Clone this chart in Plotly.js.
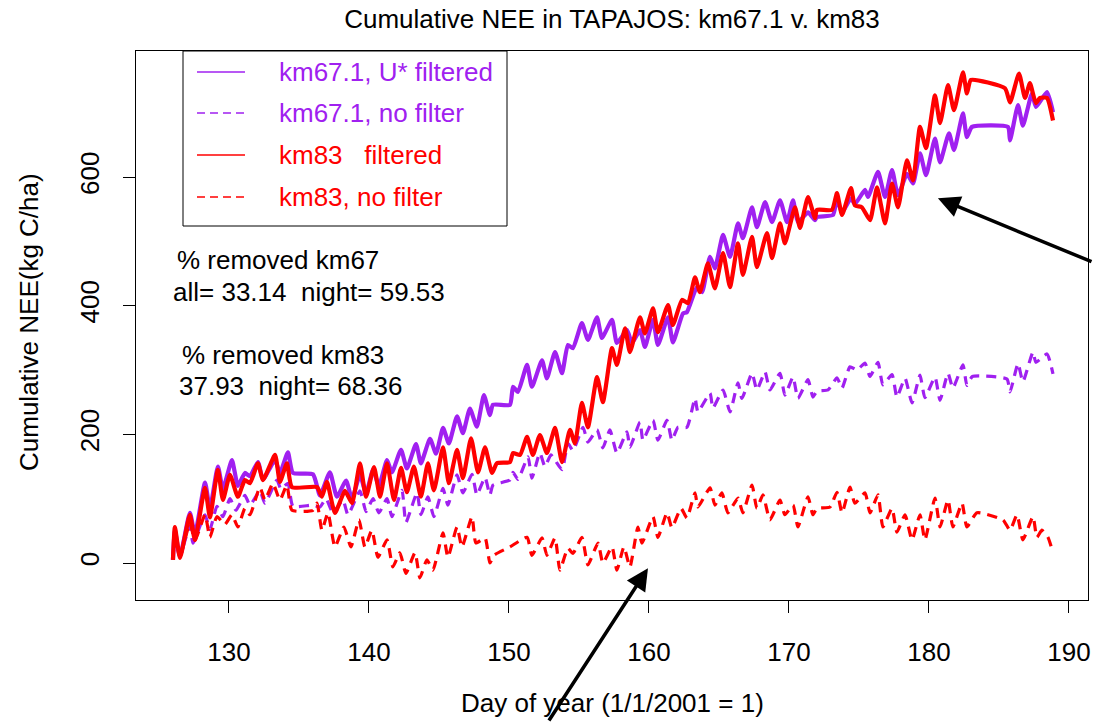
<!DOCTYPE html>
<html>
<head>
<meta charset="utf-8">
<script src="https://cdn.plot.ly/plotly-3.0.1.min.js"></script>
<style>html,body{margin:0;padding:0;background:#fff;}#chart{width:1093px;height:722px;}</style>
</head>
<body>
<div id="chart"></div>
<script>
// ---- Data ----
const seriesNames = ["km67.1, U* filtered", "km67.1, no filter", "km83   filtered", "km83, no filter"];

const km67FiltDay = [126.0,126.14,126.5,127.21,127.57,128.29,128.64,129.21,129.57,130.21,130.64,131.14,131.5,132.07,132.43,133.29,133.64,134.21,134.57,136.0,136.5,137.21,137.71,138.36,138.79,139.36,139.79,140.29,140.71,141.29,141.64,142.29,142.71,143.36,143.71,144.36,144.79,145.29,145.71,146.29,146.71,147.21,147.71,148.21,148.64,148.86,150.07,150.29,150.64,151.29,151.64,152.36,152.71,153.29,153.79,154.21,154.57,155.21,155.64,156.29,156.64,157.36,157.71,158.43,158.79,159.36,159.71,160.29,160.64,161.36,161.71,162.43,162.71,163.43,163.79,164.36,164.71,165.29,165.79,166.36,166.71,167.36,167.71,168.29,168.79,169.36,169.86,170.29,170.64,171.36,171.86,172.0,173.14,173.43,173.79,174.43,174.71,175.43,175.64,176.36,176.86,177.36,177.79,178.43,178.86,179.36,179.79,180.43,180.79,181.43,181.79,182.43,182.71,183.07,185.64,185.79,186.36,186.71,187.36,187.64,188.43,188.86];
const km67FiltNEE = [5,50,10,78,45,125,85,150,115,160,120,140,135,157,130,160,140,172,140,138,105,141,103,128,100,137,108,145,120,160,141,176,147,185,155,193,170,210,186,228,202,240,212,261,230,246,246,274,266,308,274,315,287,328,295,339,334,373,347,382,350,378,342,362,342,362,336,378,339,382,343,388,390,429,421,476,458,510,476,528,505,553,522,561,530,564,530,564,530,545,533,538,541,565,545,567,558,580,569,608,569,611,572,605,590,637,603,660,623,668,642,699,662,678,678,657,712,680,730,709,732,701];

const km67RawDay = [126.0,126.14,126.5,127.21,127.43,128.29,128.64,129.14,129.57,130.07,130.5,131.14,131.5,132.21,132.57,133.43,133.71,134.21,134.57,136.0,136.5,136.93,137.43,138.14,138.5,139.36,139.79,140.29,140.71,141.29,141.64,142.36,142.64,143.43,143.71,144.21,144.64,145.29,145.64,146.29,146.71,147.36,147.71,148.29,148.64,148.86,150.07,150.29,150.64,151.36,151.64,152.21,152.57,153.0,153.79,154.21,154.57,155.29,155.64,156.29,156.71,157.21,157.71,158.43,158.64,159.36,159.57,160.29,160.64,161.29,161.64,162.07,162.71,163.29,163.5,164.36,164.57,165.29,165.79,166.36,166.64,167.36,167.71,168.29,168.64,169.36,169.71,170.29,170.64,171.36,171.71,172.0,172.79,173.43,173.79,174.36,174.86,175.43,175.79,176.36,176.71,177.36,177.71,178.29,178.79,179.36,179.71,180.43,180.79,181.36,181.71,182.43,182.71,183.1,185.57,185.79,186.36,186.71,187.43,187.64,188.43,188.86];
const km67RawNEE = [5,40,12,58,31,75,52,88,72,100,82,105,90,112,93,129,115,124,88,90,87,100,78,98,75,112,80,100,78,100,72,113,63,109,75,103,72,116,90,137,109,138,106,133,106,121,129,141,130,165,132,171,150,168,145,186,175,211,188,207,179,207,171,204,180,219,191,222,191,222,191,211,211,256,235,264,241,269,235,280,256,295,269,297,269,295,261,289,256,285,258,267,269,288,272,305,300,311,290,312,277,293,258,287,249,292,257,289,253,295,272,308,276,290,286,266,310,282,328,312,325,294];

const km83FiltDay = [126.0,126.14,126.5,127.21,127.57,128.29,128.64,129.21,129.57,130.07,130.64,131.14,131.5,132.07,132.43,133.29,133.64,134.14,134.5,136.29,136.64,137.0,137.57,138.29,138.79,139.36,139.79,140.36,140.79,141.29,141.79,142.29,142.71,143.21,143.71,144.21,144.64,145.29,145.71,146.29,146.71,147.29,147.79,148.29,148.79,149.14,150.07,150.29,150.79,151.29,151.71,152.21,152.71,153.29,153.79,154.36,154.71,155.21,155.64,156.29,156.71,157.36,157.71,158.29,158.64,159.36,159.71,160.29,160.64,161.36,161.71,162.36,162.79,163.29,163.64,164.21,164.71,165.29,165.79,166.36,166.71,167.36,167.71,168.43,168.79,169.36,169.71,170.43,170.79,171.36,171.86,172.0,173.07,173.43,173.79,174.43,174.71,175.21,175.79,176.29,176.86,177.36,177.79,178.43,178.86,179.36,179.79,180.43,180.79,181.36,181.79,182.43,182.71,183.0,185.43,185.79,186.43,186.86,187.21,187.64,187.93,188.43,188.86];
const km83FiltNEE = [5,56,8,75,36,117,71,145,98,137,103,129,124,155,129,168,126,155,118,118,103,126,78,112,93,155,103,149,103,155,98,148,110,150,103,155,113,180,124,176,132,194,141,180,140,155,157,171,168,196,168,199,171,210,157,207,186,249,211,289,250,334,308,365,328,382,357,396,359,401,370,409,404,444,421,466,427,482,429,497,448,507,460,513,474,528,497,553,521,569,536,549,549,575,541,583,556,553,533,584,528,590,553,626,595,678,645,727,684,743,704,763,730,751,738,716,761,723,746,715,723,723,688];

const km83RawDay = [126.0,126.14,126.5,127.21,127.57,128.29,128.64,129.14,129.71,130.21,130.64,131.14,131.5,132.21,132.57,133.14,133.64,134.14,134.5,136.0,136.29,136.64,137.07,137.57,138.21,138.71,139.29,139.71,140.21,140.64,141.29,141.71,142.21,142.64,143.29,143.64,144.14,144.57,145.29,145.64,146.29,146.64,147.36,147.64,148.29,148.64,148.93,150.07,151.29,151.64,152.36,152.71,153.29,153.64,154.21,154.57,155.21,155.64,156.36,156.71,157.36,157.71,158.21,158.64,159.21,159.5,160.29,160.64,161.29,161.64,162.29,162.71,163.29,163.5,164.36,164.71,165.21,165.64,166.36,166.71,167.36,167.71,168.14,168.64,169.36,169.71,170.29,170.64,171.36,171.71,172.0,172.93,173.43,173.79,174.36,174.71,175.43,175.79,176.36,176.71,177.36,177.71,178.29,178.79,179.36,179.71,180.43,180.79,181.36,181.71,182.36,182.71,183.43,185.29,185.79,186.29,186.71,187.43,187.71,188.07,188.5,188.86];
const km83RawNEE = [5,45,10,62,35,75,40,72,60,75,56,85,75,118,98,124,98,121,82,82,93,51,78,25,56,25,67,25,51,9,36,-6,16,-16,16,-23,5,-11,47,9,56,25,72,31,39,0,12,25,40,12,39,12,39,-11,23,15,40,-3,31,0,25,-11,25,-6,56,31,72,40,78,55,85,70,109,87,117,90,109,78,101,78,121,85,106,67,98,75,90,56,103,75,85,87,110,78,118,93,109,78,106,56,85,48,75,36,75,36,101,56,98,56,93,56,78,67,51,75,36,72,40,51,40,16];

const xTicks = [130, 140, 150, 160, 170, 180, 190];
const yTicks = [0, 200, 400, 600];

// ---- Styling ----
const PURPLE = '#A020F0';
const RED = '#FF0000';
const FONT = 'Liberation Sans, Arial, Helvetica, sans-serif';
const DASH = '10px,7px';

const traces = [
  {x: km67RawDay, y: km67RawNEE, name: seriesNames[1], line: {color: PURPLE, width: 3.2, dash: DASH}},
  {x: km83RawDay, y: km83RawNEE, name: seriesNames[3], line: {color: RED, width: 3.2, dash: DASH}},
  {x: km67FiltDay, y: km67FiltNEE, name: seriesNames[0], line: {color: PURPLE, width: 4.2}},
  {x: km83FiltDay, y: km83FiltNEE, name: seriesNames[2], line: {color: RED, width: 4.2}}
].map(t => Object.assign(t, {type: 'scatter', mode: 'lines', showlegend: false, hoverinfo: 'skip',
  line: Object.assign(t.line, {shape: 'spline', smoothing: 0.5})}));

// plot area in px: left 136, right 1088, top 51, bottom 600
const PX0 = 136, PW = 952, PY0 = 51, PH = 549;
const px = v => (v - PX0) / PW;
const py = v => (PY0 + PH - v) / PH;

// custom legend (R style box)
const legendRows = [
  {label: seriesNames[0], color: PURPLE, dash: 'solid', y: 72},
  {label: seriesNames[1], color: PURPLE, dash: '8px,5px', y: 113},
  {label: seriesNames[2], color: RED, dash: 'solid', y: 155},
  {label: seriesNames[3], color: RED, dash: '8px,5px', y: 197}
];
const shapes = [
  {type: 'rect', xref: 'paper', yref: 'paper', x0: px(183), x1: px(507), y0: py(226), y1: py(51),
   line: {color: 'black', width: 1}, fillcolor: 'rgba(0,0,0,0)'}
];
const annotations = [];
legendRows.forEach(r => {
  shapes.push({type: 'line', xref: 'paper', yref: 'paper', x0: px(197), x1: px(245), y0: py(r.y), y1: py(r.y),
    line: {color: r.color, width: 1.6, dash: r.dash}});
  annotations.push({xref: 'paper', yref: 'paper', x: px(277), y: py(r.y), xanchor: 'left', yanchor: 'middle',
    text: r.label.replace(/ /g, '\u00A0'), showarrow: false, font: {family: FONT, size: 26, color: r.color}});
});

const notes = [
  {t: '% removed km67', x: 175, y: 260},
  {t: 'all= 33.14  night= 59.53', x: 171, y: 292},
  {t: '% removed km83', x: 180, y: 355},
  {t: '37.93  night= 68.36', x: 177, y: 386}
];
notes.forEach(n => annotations.push({xref: 'paper', yref: 'paper', x: px(n.x), y: py(n.y), xanchor: 'left', yanchor: 'middle',
  text: n.t.replace(/ /g, '\u00A0'), showarrow: false, font: {family: FONT, size: 26, color: 'black'}}));

// axis titles
annotations.push({xref: 'paper', yref: 'paper', x: px(612), y: py(703), xanchor: 'center', yanchor: 'middle',
  text: 'Day of year (1/1/2001 = 1)', showarrow: false, font: {family: FONT, size: 26, color: 'black'}});
annotations.push({xref: 'paper', yref: 'paper', x: px(29), y: py(322), xanchor: 'center', yanchor: 'middle', textangle: -90,
  text: 'Cumulative NEE(kg C/ha)', showarrow: false, font: {family: FONT, size: 26, color: 'black'}});

// arrows
annotations.push({xref: 'x', yref: 'y', x: 180.64, y: 567, ax: 170, ay: 64, axref: 'pixel', ayref: 'pixel',
  text: '', showarrow: true, arrowhead: 2, arrowsize: 1.25, arrowwidth: 3.5, arrowcolor: 'black'});
annotations.push({xref: 'x', yref: 'y', x: 159.93, y: -8, ax: -100, ay: 176, axref: 'pixel', ayref: 'pixel',
  text: '', showarrow: true, arrowhead: 2, arrowsize: 1.25, arrowwidth: 3.5, arrowcolor: 'black'});

const layout = {
  width: 1093, height: 722,
  margin: {l: PX0, r: 1093 - PX0 - PW, t: PY0, b: 722 - PY0 - PH, pad: 0},
  paper_bgcolor: 'white', plot_bgcolor: 'white',
  font: {family: FONT, size: 26, color: 'black'},
  title: {text: 'Cumulative NEE in TAPAJOS: km67.1 v. km83', x: 0.5, xref: 'paper', y: 1 - 19 / 722, yref: 'container',
          xanchor: 'center', yanchor: 'middle', font: {family: FONT, size: 26, color: 'black'}},
  xaxis: {range: [123.36, 191.36], tickvals: xTicks, ticktext: xTicks.map(String), ticks: 'outside', ticklen: 12,
          tickwidth: 1, tickcolor: 'black', showline: true, mirror: true, linecolor: 'black', linewidth: 1,
          showgrid: false, zeroline: false, ticklabelstandoff: 17, tickfont: {family: FONT, size: 26, color: 'black'}},
  yaxis: {range: [-57.5, 796], tickvals: yTicks, ticktext: yTicks.map(String), ticks: 'outside', ticklen: 12,
          tickwidth: 1, tickcolor: 'black', showline: true, mirror: true, linecolor: 'black', linewidth: 1,
          showgrid: false, zeroline: false, tickangle: -90, ticklabelstandoff: 14,
          tickfont: {family: FONT, size: 26, color: 'black'}},
  shapes: shapes,
  annotations: annotations,
  showlegend: false
};

Plotly.newPlot('chart', traces, layout, {displayModeBar: false, staticPlot: true});
</script>
</body>
</html>
